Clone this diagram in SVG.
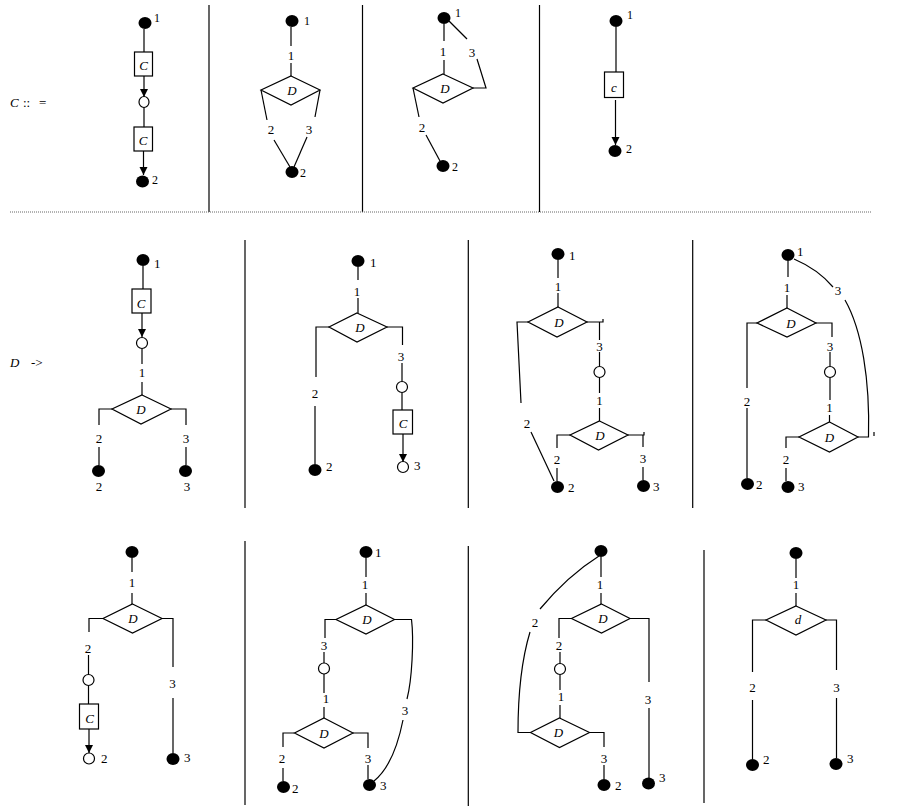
<svg xmlns="http://www.w3.org/2000/svg" width="900" height="810" viewBox="0 0 900 810">
<style>
.ln{stroke:#000;stroke-width:1.2;fill:none}
.dv{stroke:#000;stroke-width:1.2}
.dot{fill:#000}
.oc{fill:#fff;stroke:#000;stroke-width:1.2}
.sh{fill:#fff;stroke:#000;stroke-width:1.2}
.t{font-family:"Liberation Serif",serif;font-size:13px;fill:#000}
.s{font-size:12px}
.m{text-anchor:middle}
.it{font-style:italic}
</style>
<defs>
<marker id="ar" markerUnits="userSpaceOnUse" markerWidth="9" markerHeight="9" refX="8" refY="4" orient="auto">
<path d="M0,0 L8,4 L0,8 z" fill="#000"/>
</marker>
</defs>
<rect width="900" height="810" fill="#fff"/>
<g id="frame">
<line class="dv" x1="209" y1="5" x2="209" y2="212"/>
<line class="dv" x1="362.5" y1="5" x2="362.5" y2="212"/>
<line class="dv" x1="539.5" y1="5" x2="539.5" y2="212"/>
<line x1="10" y1="212" x2="872" y2="212" stroke="#666" stroke-width="1" stroke-dasharray="1,1"/>
<line class="dv" x1="245" y1="240" x2="245" y2="508"/>
<line class="dv" x1="468.3" y1="240" x2="468.3" y2="508"/>
<line class="dv" x1="692.7" y1="240" x2="692.7" y2="508"/>
<line class="dv" x1="245" y1="541" x2="245" y2="805"/>
<line class="dv" x1="468.3" y1="546" x2="468.3" y2="806"/>
<line class="dv" x1="704" y1="550" x2="704" y2="803"/>
<text class="t" x="10" y="107" font-size="15"><tspan class="it">C</tspan><tspan x="23">::</tspan><tspan x="39">=</tspan></text>
<text class="t" x="10" y="367" font-size="15"><tspan class="it">D</tspan><tspan x="31">-&gt;</tspan></text>
</g>
<g id="connectors">
<!-- top 1 -->
<line class="ln" x1="144" y1="29" x2="144" y2="52"/>
<line class="ln" x1="144" y1="76" x2="144" y2="97" marker-end="url(#ar)"/>
<line class="ln" x1="144" y1="107" x2="144" y2="127"/>
<line class="ln" x1="143.5" y1="151" x2="143.5" y2="175" marker-end="url(#ar)"/>
<!-- top 2 -->
<line class="ln" x1="291" y1="27" x2="291" y2="46"/>
<text class="t m" x="291" y="60">1</text>
<line class="ln" x1="291" y1="63" x2="291" y2="76"/>
<polyline class="ln" points="261,90 267,120"/>
<text class="t m" x="271" y="134">2</text>
<line class="ln" x1="274" y1="140" x2="290" y2="167"/>
<polyline class="ln" points="320,90 315,117"/>
<text class="t m" x="309" y="134">3</text>
<line class="ln" x1="307" y1="137" x2="294" y2="167"/>
<!-- top 3 -->
<line class="ln" x1="444" y1="24" x2="444" y2="41"/>
<text class="t m" x="443" y="56">1</text>
<line class="ln" x1="444" y1="60" x2="444" y2="74"/>
<line class="ln" x1="449" y1="21" x2="467" y2="39"/>
<text class="t m" x="472" y="57">3</text>
<polyline class="ln" points="477,59 486,88 473,88"/>
<line class="ln" x1="413" y1="88" x2="419" y2="117"/>
<text class="t m" x="422" y="132">2</text>
<line class="ln" x1="426" y1="135" x2="440" y2="161"/>
<!-- top 4 -->
<line class="ln" x1="616" y1="27" x2="616" y2="72"/>
<line class="ln" x1="615.5" y1="100" x2="615.5" y2="145" marker-end="url(#ar)"/>
<!-- mid 1 -->
<line class="ln" x1="143" y1="266" x2="143" y2="289"/>
<line class="ln" x1="142" y1="313" x2="142" y2="337" marker-end="url(#ar)"/>
<line class="ln" x1="142" y1="348.5" x2="142" y2="364"/>
<text class="t m" x="142" y="377">1</text>
<line class="ln" x1="142" y1="382" x2="142" y2="395"/>
<polyline class="ln" points="112,409 99,409 99,425"/>
<text class="t m" x="99" y="443">2</text>
<line class="ln" x1="99" y1="447" x2="99" y2="465"/>
<polyline class="ln" points="171,409 186,409 186,425"/>
<text class="t m" x="186" y="443">3</text>
<line class="ln" x1="186" y1="447" x2="186" y2="465"/>
<!-- mid 2 -->
<line class="ln" x1="358" y1="267" x2="358" y2="280"/>
<text class="t m" x="357" y="296">1</text>
<line class="ln" x1="358" y1="298" x2="358" y2="313"/>
<polyline class="ln" points="329,327 316,327 316,377"/>
<text class="t m" x="315" y="398">2</text>
<line class="ln" x1="315" y1="406" x2="315" y2="464"/>
<polyline class="ln" points="387,327 402.5,327 402.5,345"/>
<text class="t m" x="401" y="361">3</text>
<line class="ln" x1="402" y1="363" x2="402" y2="381"/>
<line class="ln" x1="402" y1="392.5" x2="402" y2="410"/>
<line class="ln" x1="403" y1="434" x2="403" y2="462" marker-end="url(#ar)"/>
<!-- mid 3 -->
<line class="ln" x1="558" y1="260" x2="558" y2="278"/>
<text class="t m" x="558" y="291">1</text>
<line class="ln" x1="558" y1="293" x2="558" y2="307"/>
<polyline class="ln" points="528,322 517,322 521,403"/>
<text class="t m" x="527" y="428">2</text>
<line class="ln" x1="531" y1="432" x2="554" y2="481"/>
<polyline class="ln" points="587,322 603,322 603,319"/>
<line class="ln" x1="599.5" y1="322" x2="599.5" y2="340"/>
<text class="t m" x="599.5" y="351">3</text>
<line class="ln" x1="599.5" y1="352" x2="599.5" y2="366"/>
<line class="ln" x1="599.5" y1="377.5" x2="599.5" y2="393"/>
<text class="t m" x="599.5" y="405">1</text>
<line class="ln" x1="599.5" y1="408" x2="599.5" y2="421"/>
<polyline class="ln" points="570,435 557,435 557,448"/>
<text class="t m" x="557" y="464">2</text>
<line class="ln" x1="557" y1="468" x2="557" y2="481"/>
<polyline class="ln" points="628,435 644,435 644,432"/>
<line class="ln" x1="643" y1="435" x2="643" y2="447"/>
<text class="t m" x="643" y="463">3</text>
<line class="ln" x1="643" y1="467" x2="643" y2="480"/>
<!-- mid 4 -->
<line class="ln" x1="788" y1="261" x2="788" y2="277"/>
<text class="t m" x="787" y="292">1</text>
<line class="ln" x1="787" y1="295" x2="787" y2="308"/>
<polyline class="ln" points="757,323 747,323 747,388"/>
<text class="t m" x="747" y="406">2</text>
<line class="ln" x1="747" y1="408" x2="747" y2="478"/>
<polyline class="ln" points="816,323 832,323 832,337"/>
<text class="t m" x="830" y="351">3</text>
<line class="ln" x1="830" y1="352" x2="830" y2="366"/>
<line class="ln" x1="830" y1="378" x2="830" y2="400"/>
<text class="t m" x="829.5" y="412">1</text>
<line class="ln" x1="829.5" y1="415" x2="829.5" y2="422"/>
<polyline class="ln" points="799,437 786,437 786,448"/>
<text class="t m" x="786" y="464">2</text>
<line class="ln" x1="786" y1="468" x2="786" y2="481"/>
<path class="ln" d="M858,437 L868.5,437 C870,380 862,330 845,300"/>
<text class="t m" x="838" y="295">3</text>
<path class="ln" d="M833,287 C822,274 808,265 794,259"/>
<line class="ln" x1="874" y1="432" x2="874" y2="436"/>
<!-- bot 1 -->
<line class="ln" x1="132" y1="558" x2="132" y2="572"/>
<text class="t m" x="132" y="587">1</text>
<line class="ln" x1="132" y1="593" x2="132" y2="604"/>
<polyline class="ln" points="103,618.5 89,618.5 89,632"/>
<text class="t m" x="88" y="653">2</text>
<line class="ln" x1="88.5" y1="655" x2="88.5" y2="674.5"/>
<line class="ln" x1="88.5" y1="685.5" x2="88.5" y2="704"/>
<line class="ln" x1="89" y1="729" x2="89" y2="753" marker-end="url(#ar)"/>
<polyline class="ln" points="162,618.5 173,618.5 173,667"/>
<text class="t m" x="172.5" y="688">3</text>
<line class="ln" x1="173" y1="698" x2="173" y2="753"/>
<!-- bot 2 -->
<line class="ln" x1="366" y1="558" x2="366" y2="577"/>
<text class="t m" x="365" y="589">1</text>
<line class="ln" x1="366" y1="593" x2="366" y2="605"/>
<polyline class="ln" points="336,619.5 325,619.5 325,638"/>
<text class="t m" x="324" y="650">3</text>
<line class="ln" x1="324" y1="652" x2="324" y2="663"/>
<line class="ln" x1="324" y1="674" x2="324" y2="693"/>
<text class="t m" x="326" y="703">1</text>
<line class="ln" x1="324" y1="707" x2="324" y2="718"/>
<polyline class="ln" points="294.5,733 283,733 283,747"/>
<text class="t m" x="282" y="763">2</text>
<line class="ln" x1="283" y1="768" x2="283" y2="781"/>
<polyline class="ln" points="353,733 368,733 368,748"/>
<text class="t m" x="368" y="763">3</text>
<line class="ln" x1="368" y1="765" x2="368" y2="779"/>
<path class="ln" d="M394.5,619.5 L411.5,619.5 C414,640 412,680 407,699"/>
<text class="t m" x="405" y="715">3</text>
<path class="ln" d="M403,720 C398,745 390,768 374,781"/>
<!-- bot 3 -->
<line class="ln" x1="601" y1="557" x2="601" y2="577"/>
<text class="t m" x="600" y="589">1</text>
<line class="ln" x1="601" y1="593" x2="601" y2="604"/>
<polyline class="ln" points="571.5,618.5 559,618.5 559,638"/>
<text class="t m" x="559" y="650">2</text>
<line class="ln" x1="560" y1="652" x2="560" y2="663.5"/>
<line class="ln" x1="560" y1="674.5" x2="560" y2="690"/>
<text class="t m" x="561" y="701">1</text>
<line class="ln" x1="560" y1="705" x2="560" y2="718"/>
<polyline class="ln" points="589.5,732.5 604,732.5 604,747"/>
<text class="t m" x="604" y="763">3</text>
<line class="ln" x1="604" y1="765" x2="604" y2="779"/>
<path class="ln" d="M530.5,732.5 L518,732.5 C518,700 520,665 530,632"/>
<text class="t m" x="535" y="627">2</text>
<path class="ln" d="M540,609 C560,585 580,568 599,556"/>
<polyline class="ln" points="630,618.5 649,618.5 649,682"/>
<text class="t m" x="648" y="704">3</text>
<line class="ln" x1="649" y1="708" x2="649" y2="778"/>
<!-- bot 4 -->
<line class="ln" x1="796" y1="559" x2="796" y2="578"/>
<text class="t m" x="796" y="589">1</text>
<line class="ln" x1="796" y1="593" x2="796" y2="606"/>
<polyline class="ln" points="766,620 752.5,620 752.5,672"/>
<text class="t m" x="752.5" y="692">2</text>
<line class="ln" x1="752.5" y1="700" x2="752.5" y2="759"/>
<polyline class="ln" points="826,620 836.5,620 836.5,670"/>
<text class="t m" x="836.5" y="692">3</text>
<line class="ln" x1="836.5" y1="698" x2="836.5" y2="758"/>
</g>
<!-- top 1 nodes -->
<g id="t1-s"><ellipse class="dot" cx="145" cy="23" rx="6.5" ry="6"/><text class="t s" x="154" y="22">1</text></g>
<g id="t1-c1"><rect class="sh" x="134.5" y="52" width="18" height="24"/><text class="t m it" x="143.5" y="70">C</text></g>
<g id="t1-o"><ellipse class="oc" cx="144" cy="102" rx="5" ry="5.5"/></g>
<g id="t1-c2"><rect class="sh" x="134" y="127" width="18.5" height="24"/><text class="t m it" x="143" y="145">C</text></g>
<g id="t1-e"><ellipse class="dot" cx="142.5" cy="181.5" rx="6.5" ry="6"/><text class="t s" x="152" y="184">2</text></g>
<!-- top 2 nodes -->
<g id="t2-s"><ellipse class="dot" cx="292" cy="21" rx="6.5" ry="6"/><text class="t s" x="304" y="25">1</text></g>
<g id="t2-d"><polygon class="sh" points="291,76 320,90 291,105 261,90"/><text class="t m it" x="292" y="95">D</text></g>
<g id="t2-e"><ellipse class="dot" cx="292" cy="172" rx="6.5" ry="6"/><text class="t s" x="300" y="177">2</text></g>
<!-- top 3 nodes -->
<g id="t3-s"><ellipse class="dot" cx="444" cy="18" rx="6.5" ry="6"/><text class="t s" x="455" y="17">1</text></g>
<g id="t3-d"><polygon class="sh" points="443,74 473,88 443,103 413,88"/><text class="t m it" x="445" y="93">D</text></g>
<g id="t3-e"><ellipse class="dot" cx="443" cy="166" rx="6.5" ry="6"/><text class="t s" x="452" y="171">2</text></g>
<!-- top 4 nodes -->
<g id="t4-s"><ellipse class="dot" cx="616" cy="21" rx="6.5" ry="6"/><text class="t s" x="627" y="19">1</text></g>
<g id="t4-c"><rect class="sh" x="604.5" y="72" width="19" height="25.5"/><text class="t m it" x="614" y="92">c</text></g>
<g id="t4-e"><ellipse class="dot" cx="615" cy="151" rx="6.5" ry="6"/><text class="t s" x="626" y="153">2</text></g>
<!-- mid 1 nodes -->
<g id="m1-s"><ellipse class="dot" cx="143" cy="260" rx="6.5" ry="6"/><text class="t" x="154" y="268">1</text></g>
<g id="m1-c"><rect class="sh" x="132" y="289" width="19" height="24"/><text class="t m it" x="141" y="308">C</text></g>
<g id="m1-o"><ellipse class="oc" cx="142" cy="343" rx="5.5" ry="5.5"/></g>
<g id="m1-d"><polygon class="sh" points="142,395 171,409 141,424 112,409"/><text class="t m it" x="141" y="414">D</text></g>
<g id="m1-e2"><ellipse class="dot" cx="98.5" cy="471" rx="6.5" ry="6"/><text class="t m" x="99" y="491">2</text></g>
<g id="m1-e3"><ellipse class="dot" cx="185.5" cy="471" rx="6.5" ry="6"/><text class="t m" x="187" y="491">3</text></g>
<!-- mid 2 nodes -->
<g id="m2-s"><ellipse class="dot" cx="358" cy="261" rx="6.5" ry="6"/><text class="t" x="370" y="267">1</text></g>
<g id="m2-d"><polygon class="sh" points="357,313 387,327 357,342 329,327"/><text class="t m it" x="360" y="332">D</text></g>
<g id="m2-e2"><ellipse class="dot" cx="315" cy="470" rx="6.5" ry="6"/><text class="t" x="326" y="471">2</text></g>
<g id="m2-o"><ellipse class="oc" cx="402" cy="387" rx="5.5" ry="5.5"/></g>
<g id="m2-c"><rect class="sh" x="393" y="410" width="19.5" height="24"/><text class="t m it" x="403" y="428">C</text></g>
<g id="m2-e3"><ellipse class="oc" cx="403" cy="467" rx="5.5" ry="5.5"/><text class="t" x="414" y="470">3</text></g>
<!-- mid 3 nodes -->
<g id="m3-s"><ellipse class="dot" cx="558" cy="254" rx="6.5" ry="6"/><text class="t" x="569" y="260">1</text></g>
<g id="m3-d1"><polygon class="sh" points="558,307 587,322 557,337 528,322"/><text class="t m it" x="559" y="327">D</text></g>
<g id="m3-o"><ellipse class="oc" cx="599.5" cy="372" rx="5.5" ry="5.5"/></g>
<g id="m3-d2"><polygon class="sh" points="599.5,421 628,435 598.5,450 570,435"/><text class="t m it" x="600" y="440">D</text></g>
<g id="m3-e2"><ellipse class="dot" cx="557.5" cy="487" rx="6.5" ry="6"/><text class="t" x="568" y="492">2</text></g>
<g id="m3-e3"><ellipse class="dot" cx="643.5" cy="486" rx="6.5" ry="6"/><text class="t" x="653" y="491">3</text></g>
<!-- mid 4 nodes -->
<g id="m4-s"><ellipse class="dot" cx="788" cy="255" rx="6.5" ry="6"/><text class="t" x="797" y="256">1</text></g>
<g id="m4-d1"><polygon class="sh" points="787,308 816,323 787,337 757,323"/><text class="t m it" x="791" y="328">D</text></g>
<g id="m4-o"><ellipse class="oc" cx="830" cy="372" rx="5.5" ry="5.5"/></g>
<g id="m4-d2"><polygon class="sh" points="829.5,422 858,437 829.5,452 799,437"/><text class="t m it" x="829.5" y="442">D</text></g>
<g id="m4-e2"><ellipse class="dot" cx="747.5" cy="484" rx="6.5" ry="6"/><text class="t" x="756" y="489">2</text></g>
<g id="m4-e3"><ellipse class="dot" cx="788" cy="487" rx="6.5" ry="6"/><text class="t" x="798" y="491">3</text></g>
<!-- bot 1 nodes -->
<g id="b1-s"><ellipse class="dot" cx="132" cy="552" rx="6.5" ry="6"/></g>
<g id="b1-d"><polygon class="sh" points="132.5,604 162,618.5 132.5,633 103,618.5"/><text class="t m it" x="133" y="623">D</text></g>
<g id="b1-o"><ellipse class="oc" cx="88.5" cy="680" rx="5.5" ry="5.5"/></g>
<g id="b1-c"><rect class="sh" x="79.5" y="704" width="19" height="25"/><text class="t m it" x="89.5" y="723">C</text></g>
<g id="b1-e2"><ellipse class="oc" cx="89" cy="758.5" rx="5.5" ry="5.5"/><text class="t" x="101" y="763">2</text></g>
<g id="b1-e3"><ellipse class="dot" cx="173" cy="759" rx="6.5" ry="6"/><text class="t" x="184" y="762">3</text></g>
<!-- bot 2 nodes -->
<g id="b2-s"><ellipse class="dot" cx="366" cy="552" rx="6.5" ry="6"/><text class="t" x="375" y="557">1</text></g>
<g id="b2-d1"><polygon class="sh" points="366,605 394.5,619.5 366,634 336,619.5"/><text class="t m it" x="367" y="624">D</text></g>
<g id="b2-o"><ellipse class="oc" cx="324" cy="668.5" rx="5.5" ry="5.5"/></g>
<g id="b2-d2"><polygon class="sh" points="324,718 353,733 324,748 294.5,733"/><text class="t m it" x="324" y="738">D</text></g>
<g id="b2-e2"><ellipse class="dot" cx="283.5" cy="787" rx="6.5" ry="6"/><text class="t" x="292" y="793" font-size="15">2</text></g>
<g id="b2-e3"><ellipse class="dot" cx="369.5" cy="785" rx="6.5" ry="6"/><text class="t" x="380" y="790">3</text></g>
<!-- bot 3 nodes -->
<g id="b3-s"><ellipse class="dot" cx="601" cy="551" rx="6.5" ry="6"/></g>
<g id="b3-d1"><polygon class="sh" points="601.5,604 630,618.5 601.5,633 571.5,618.5"/><text class="t m it" x="603" y="623">D</text></g>
<g id="b3-o"><ellipse class="oc" cx="560" cy="669" rx="5.5" ry="5.5"/></g>
<g id="b3-d2"><polygon class="sh" points="559.5,718 589.5,732.5 559.5,747.5 530.5,732.5"/><text class="t m it" x="558.5" y="737">D</text></g>
<g id="b3-e2"><ellipse class="dot" cx="604" cy="785" rx="6.5" ry="6"/><text class="t" x="615" y="790">2</text></g>
<g id="b3-e3"><ellipse class="dot" cx="648.5" cy="783.5" rx="6.5" ry="6"/><text class="t" x="659" y="782">3</text></g>
<!-- bot 4 nodes -->
<g id="b4-s"><ellipse class="dot" cx="796" cy="553" rx="6.5" ry="6"/></g>
<g id="b4-d"><polygon class="sh" points="796,606 826,620 796,635 766,620"/><text class="t m it" x="798" y="624">d</text></g>
<g id="b4-e2"><ellipse class="dot" cx="752.5" cy="765" rx="6.5" ry="6"/><text class="t" x="763" y="764">2</text></g>
<g id="b4-e3"><ellipse class="dot" cx="836" cy="764" rx="6.5" ry="6"/><text class="t" x="847" y="763">3</text></g>
</svg>
